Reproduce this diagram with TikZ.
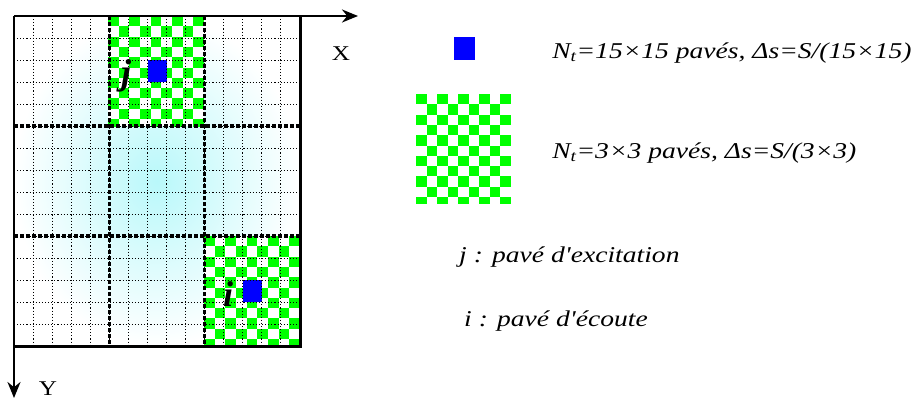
\documentclass[tikz,border=0pt]{standalone}
\usepackage{fontspec}
\setmainfont{Liberation Serif}
\usetikzlibrary{arrows.meta}
\definecolor{vertpave}{RGB}{0,255,0}
\definecolor{bleupave}{RGB}{0,0,255}
\definecolor{cyanfond}{RGB}{185,248,250}
\tikzset{
  grille/.style={line width=1pt, dash pattern=on 1.1pt off 2pt},
  bloc/.style={line width=3.2pt, dash pattern=on 3.5pt off 2.5pt},
  axe/.style={line width=2.4pt, ->},
  legende/.style={font=\fontsize{22.6}{26}\selectfont\itshape, anchor=base west, inner sep=0pt, xscale=1.22},
  lettre/.style={font=\fontsize{36}{40}\selectfont\bfseries\itshape, inner sep=0pt},
  axelabel/.style={font=\fontsize{21}{25}\selectfont, inner sep=0pt, xscale=1.2},
}
\begin{document}
\begin{tikzpicture}[x=1pt,y=-1pt,>={Stealth[length=16pt,width=13pt]}]
\useasboundingbox (0,0) rectangle (913,399);
% fond degrade
\shade[inner color=cyanfond, outer color=white] (14,16) rectangle (300,346);
% damiers
\foreach \xa/\ya/\xb/\yb in {108/16/204/126, 204/236/300/346, 416/94/511/203}{
  \begin{scope}
    \clip (\xa,\ya) rectangle (\xb,\yb);
    \fill[white] (\xa,\ya) rectangle (\xb,\yb);
    \foreach \c in {0,...,8}
      \foreach \r in {0,...,10}{
        \pgfmathtruncatemacro{\pair}{mod(\c+\r,2)}
        \ifnum\pair=0
          \fill[vertpave] ({\xa+\c*(\xb-\xa)/9},{\ya+\r*10.3}) rectangle ++({(\xb-\xa)/9},10.3);
        \fi
      }
  \end{scope}
}
% paves i et j
\fill[bleupave] (147.5,60) rectangle (166.6,82);
\fill[bleupave] (242.8,280) rectangle (261.9,302);
% grille 15x15
\foreach \k in {1,...,14}{
  \draw[grille] ({14+\k*286/15},16) -- ({14+\k*286/15},346);
  \draw[grille] (14,{16+\k*22}) -- (300,{16+\k*22});
}
% grille 3x3
\foreach \k in {1,2}{
  \draw[bloc] ({14+\k*286/3},16) -- ({14+\k*286/3},346);
  \draw[bloc] (14,{16+\k*110}) -- (300,{16+\k*110});
}
\draw[line width=3pt] (300,16) -- (300,346) -- (14,346);
% axes
\coordinate (O) at (14,16);
\coordinate (Xfin) at (358,16);
\coordinate (Yfin) at (14,398);
\draw[axe] (O) -- (Xfin);
\draw[axe] (O) -- (Yfin);
\node[axelabel] (labX) at (341,54) {X};
\node[axelabel] (labY) at (48,389) {Y};
\node[lettre] (lj) at (126,76) {j};
\node[lettre] (li) at (228,294) {i};
% legende
\fill[bleupave] (454,37) rectangle (475,60);
\node[legende] (leg15) at (552,58) {N\textsubscript{t}=15×15 pavés, Δs=S/(15×15)};
\node[legende] (leg3) at (552,158) {N\textsubscript{t}=3×3 pavés, Δs=S/(3×3)};
\node[legende] (legj) at (459,262) {j : pavé d\textquotesingle excitation};
\node[legende] (legi) at (464,326) {i : pavé d\textquotesingle écoute};
\end{tikzpicture}
\end{document}
